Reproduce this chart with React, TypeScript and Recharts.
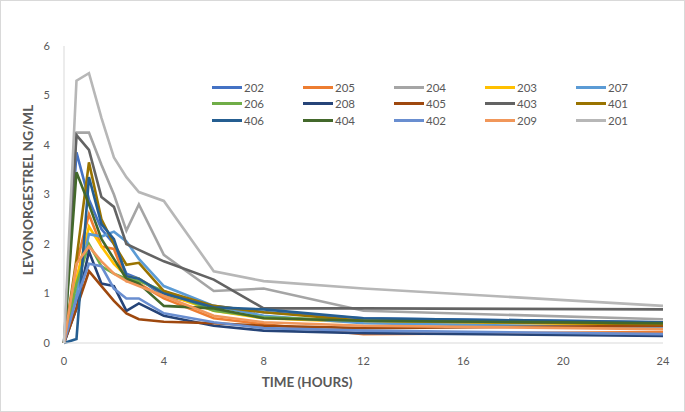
import { Line, LineChart, XAxis, YAxis, Label } from "recharts";

const TIMES = [0, 0.5, 1, 1.5, 2, 2.5, 3, 4, 6, 8, 12, 24];
const X_TICKS = [0, 4, 8, 12, 16, 20, 24];
const Y_TICKS = [0, 1, 2, 3, 4, 5, 6];

// subject id -> concentration at each time point (ng/ml)
const S202 = [0, 3.85, 2.9, 2.3, 2.0, 1.4, 1.3, 0.95, 0.75, 0.62, 0.5, 0.42];
const S205 = [0, 1.6, 2.6, 1.95, 1.9, 1.25, 1.2, 0.9, 0.5, 0.38, 0.18, 0.22];
const S204 = [0, 4.25, 4.25, 3.6, 3.0, 2.27, 2.8, 1.78, 1.05, 1.1, 0.65, 0.48];
const S203 = [0, 1.3, 2.35, 1.95, 1.6, 1.35, 1.3, 1.0, 0.65, 0.5, 0.42, 0.38];
const S207 = [0, 1.0, 2.2, 2.15, 2.25, 2.05, 1.7, 1.15, 0.75, 0.55, 0.4, 0.3];
const S206 = [0, 1.2, 2.0, 1.55, 1.4, 1.3, 1.25, 1.05, 0.65, 0.52, 0.45, 0.4];
const S208 = [0, 0.7, 1.85, 1.2, 1.15, 0.65, 0.8, 0.55, 0.35, 0.25, 0.2, 0.14];
const S405 = [0, 0.7, 1.45, 1.15, 0.85, 0.6, 0.48, 0.43, 0.4, 0.35, 0.3, 0.35];
const S403 = [0, 4.2, 3.9, 2.95, 2.75, 2.0, 1.88, 1.65, 1.28, 0.7, 0.7, 0.68];
const S401 = [0, 1.7, 3.65, 2.5, 2.0, 1.58, 1.62, 1.05, 0.75, 0.62, 0.45, 0.38];
const S406 = [0, 0.08, 3.35, 2.4, 2.1, 1.35, 1.3, 1.0, 0.72, 0.68, 0.5, 0.42];
const S404 = [0, 3.45, 2.8, 2.1, 1.7, 1.3, 1.2, 0.75, 0.7, 0.5, 0.45, 0.4];
const S402 = [0, 0.9, 1.6, 1.55, 1.1, 0.9, 0.9, 0.6, 0.42, 0.3, 0.25, 0.18];
const S209 = [0, 1.6, 1.95, 1.65, 1.4, 1.25, 1.15, 0.95, 0.55, 0.42, 0.35, 0.28];
const S201 = [0, 5.3, 5.45, 4.55, 3.75, 3.35, 3.05, 2.87, 1.45, 1.25, 1.1, 0.75];

const SERIES = [
  { name: "202", values: S202, color: "#4472C4" },
  { name: "205", values: S205, color: "#ED7D31" },
  { name: "204", values: S204, color: "#A5A5A5" },
  { name: "203", values: S203, color: "#FFC000" },
  { name: "207", values: S207, color: "#5B9BD5" },
  { name: "206", values: S206, color: "#70AD47" },
  { name: "208", values: S208, color: "#264478" },
  { name: "405", values: S405, color: "#9E480E" },
  { name: "403", values: S403, color: "#636363" },
  { name: "401", values: S401, color: "#997300" },
  { name: "406", values: S406, color: "#255E91" },
  { name: "404", values: S404, color: "#43682B" },
  { name: "402", values: S402, color: "#698ED0" },
  { name: "209", values: S209, color: "#F1975A" },
  { name: "201", values: S201, color: "#B7B7B7" },
];

const data = TIMES.map((t, i) => {
  const row: Record<string, number> = { t };
  SERIES.forEach((s) => (row[s.name] = s.values[i]));
  return row;
});

const FONT = "Lato, 'Open Sans', sans-serif";
const TEXT = "#595959";

function LegendGrid() {
  return (
    <div
      style={{
        position: "absolute",
        left: 211,
        top: 78,
        display: "grid",
        gridTemplateColumns: "repeat(5, 91px)",
        fontFamily: FONT,
      }}
    >
      {SERIES.map((s) => (
        <div key={s.name} style={{ display: "flex", alignItems: "center", height: 16.5 }}>
          <span style={{ width: 30, height: 3, background: s.color, display: "inline-block", marginRight: 2 }} />
          <span style={{ fontSize: 11.5, color: TEXT }}>{s.name}</span>
        </div>
      ))}
    </div>
  );
}

export default function App() {
  return (
    <div
      style={{
        position: "absolute",
        left: 0,
        top: 0,
        width: 683,
        height: 410,
        border: "1px solid #D9D9D9",
        background: "#fff",
      }}
    >
      <LineChart width={683} height={410} data={data} margin={{ top: 45, right: 21, bottom: 38, left: 33 }}>
        <XAxis
          dataKey="t"
          type="number"
          domain={[0, 24]}
          ticks={X_TICKS}
          stroke="#D9D9D9"
          tickLine={false}
          tickMargin={8}
          height={30}
          tick={{ fill: TEXT, fontSize: 11, fontFamily: FONT }}
        >
          <Label
            content={() => (
              <text x={306} y={386} textAnchor="middle" fill={TEXT} fontSize={13.5} fontWeight={700} fontFamily={FONT}>
                TIME (HOURS)
              </text>
            )}
          />
        </XAxis>
        <YAxis
          type="number"
          domain={[0, 6]}
          ticks={Y_TICKS}
          stroke="#D9D9D9"
          tickLine={false}
          tickMargin={8}
          width={30}
          tick={{ fill: TEXT, fontSize: 11, fontFamily: FONT }}
        >
          <Label
            content={() => (
              <text
                x={32}
                y={189}
                textAnchor="middle"
                fill={TEXT}
                fontSize={13.5}
                fontWeight={700}
                fontFamily={FONT}
                transform="rotate(-90 32 189)"
              >
                LEVONORGESTREL NG/ML
              </text>
            )}
          />
        </YAxis>
        {SERIES.map((s) => (
          <Line
            key={s.name}
            dataKey={s.name}
            name={s.name}
            type="linear"
            stroke={s.color}
            strokeWidth={2.6}
            dot={false}
            activeDot={false}
            isAnimationActive={false}
          />
        ))}
      </LineChart>
      <LegendGrid />
    </div>
  );
}
